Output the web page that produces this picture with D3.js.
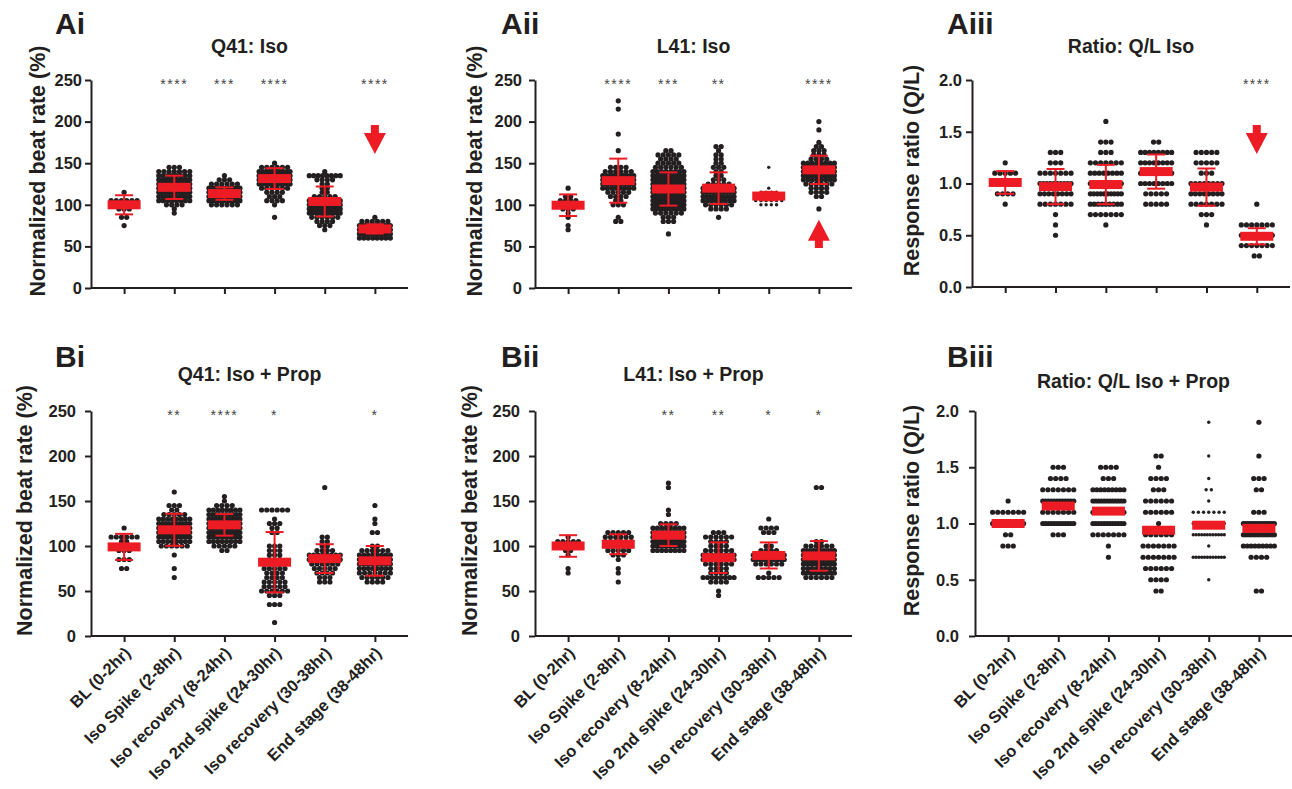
<!DOCTYPE html>
<html lang="en">
<head>
    <meta charset="UTF-8">
    <title>Beat rate scatter panels</title>
    <script src="https://cdn.jsdelivr.net/npm/d3@7"></script>
    <style>
        body {
            margin: 0;
            background: #fff;
            font-family: "Liberation Sans", Arial, Helvetica, sans-serif;
        }
        text {
            fill: #231f20;
            font-weight: bold;
        }
        .axis path, .axis line {
            stroke: #231f20;
            stroke-width: 2px;
        }
        .stars {
            font-weight: normal;
            fill: #444;
        }
    </style>
</head>
<body>
    <script>
        const categories = ["BL (0-2hr)", "Iso Spike (2-8hr)", "Iso recovery (8-24hr)",
            "Iso 2nd spike (24-30hr)", "Iso recovery (30-38hr)", "End stage (38-48hr)"];

        const beatTicks = [0, 50, 100, 150, 200, 250];
        const ratioTicks = [0, 0.5, 1.0, 1.5, 2.0];

        // dots per group as [value, count] rows
        const aiDots = [
            [[75,1],[85,2],[95,3],[100,4],[105,6],[115,1]],
            [[90,1],[95,1],[100,4],[105,8],[110,10],[115,12],[120,14],[125,12],[130,10],[135,8],[140,7],[145,3]],
            [[100,6],[105,16],[110,20],[115,16],[120,10],[125,6],[130,3],[135,1]],
            [[85,1],[100,1],[105,4],[110,3],[115,4],[120,6],[125,10],[130,14],[135,14],[140,10],[145,6],[150,1]],
            [[70,1],[75,3],[80,4],[85,6],[90,10],[95,16],[100,18],[105,14],[110,5],[115,2],[120,2],[125,2],[130,4],[135,8],[140,1]],
            [[60,8],[65,18],[70,22],[75,12],[80,6],[85,1]]
        ];
        const aiMean = [100, 121, 113.5, 131.5, 104, 71];
        const aiSd = [11.5, 14, 7.5, 12.5, 18, 5.5];
        const aiStars = ["", "****", "***", "****", "", "****"];

        const aiiDots = [
            [[70,1],[75,1],[85,1],[90,1],[95,3],[100,5],[105,4],[110,2],[120,1]],
            [[80,2],[85,1],[100,3],[105,2],[110,4],[115,5],[120,8],[125,10],[130,12],[135,10],[140,6],[145,4],[165,1],[185,1],[215,1],[225,1]],
            [[65,1],[80,3],[85,3],[90,6],[95,10],[100,12],[105,12],[110,14],[115,14],[120,14],[125,14],[130,12],[135,10],[140,8],[145,6],[150,5],[155,4],[160,5],[165,2]],
            [[85,1],[95,4],[100,6],[105,8],[110,10],[115,10],[120,8],[125,5],[130,3],[135,2],[140,2],[145,3],[150,2],[155,2],[160,2],[165,1],[170,2]],
            [[100,4],[105,6],[110,6],[115,4],[120,1],[145,1]],
            [[95,1],[110,2],[115,4],[120,4],[125,6],[130,8],[135,12],[140,14],[145,12],[150,8],[155,4],[160,3],[165,3],[170,2],[175,1],[190,1],[200,1]]
        ];
        const aiiMean = [99.5, 129, 119, 120, 110.5, 142];
        const aiiSd = [13, 26.5, 20, 19, 5, 17];
        const aiiStars = ["", "****", "***", "**", "", "****"];

        const aiiiDots = [
            [[0.8,1],[0.9,4],[1.0,6],[1.1,5],[1.2,1]],
            [[0.5,1],[0.6,1],[0.7,1],[0.8,7],[0.9,8],[1.0,10],[1.1,7],[1.2,3],[1.3,3]],
            [[0.6,1],[0.7,7],[0.8,9],[0.9,10],[1.0,10],[1.1,8],[1.2,7],[1.3,3],[1.4,3],[1.6,1]],
            [[0.8,5],[0.9,5],[1.0,8],[1.1,9],[1.2,8],[1.3,8],[1.4,2]],
            [[0.6,1],[0.7,3],[0.8,7],[0.9,8],[1.0,8],[1.1,3],[1.2,5],[1.3,5]],
            [[0.3,2],[0.4,7],[0.5,8],[0.6,7],[0.8,1]]
        ];
        const aiiiMean = [1.01, 0.97, 0.99, 1.115, 0.965, 0.49];
        const aiiiSd = [0.11, 0.17, 0.19, 0.165, 0.18, 0.078];
        const aiiiStars = ["", "", "", "", "", "****"];

        const biDots = [
            [[75,2],[85,3],[95,3],[100,4],[105,2],[110,6],[120,1]],
            [[65,1],[75,1],[90,1],[100,6],[105,8],[110,10],[115,12],[120,12],[125,10],[130,8],[135,5],[140,2],[145,3],[160,1]],
            [[95,2],[100,5],[105,8],[110,12],[115,14],[120,16],[125,14],[130,12],[135,10],[140,8],[145,4],[150,1],[155,1]],
            [[15,1],[35,3],[45,3],[50,6],[55,5],[60,5],[65,4],[70,4],[75,5],[80,4],[85,3],[90,3],[95,3],[100,3],[115,2],[120,2],[125,3],[130,1],[140,6]],
            [[60,3],[65,3],[70,4],[75,5],[80,6],[85,8],[90,8],[95,4],[100,2],[105,2],[110,2],[165,1]],
            [[60,4],[65,6],[70,7],[75,8],[80,10],[85,10],[90,8],[95,6],[100,2],[115,2],[125,1],[130,1],[145,1]]
        ];
        const biMean = [99, 118, 123.5, 82, 86, 83.5];
        const biSd = [14.5, 17.8, 12, 33.5, 16, 16.5];
        const biStars = ["", "**", "****", "*", "", "*"];

        const biiDots = [
            [[70,1],[75,1],[90,1],[95,2],[100,4],[105,5],[110,1]],
            [[60,1],[70,1],[75,1],[85,1],[90,3],[95,5],[100,6],[105,6],[110,6],[115,5]],
            [[95,8],[100,10],[105,12],[110,12],[115,10],[120,8],[125,4],[135,1],[140,1],[165,1],[170,1]],
            [[45,1],[50,1],[60,4],[65,8],[70,4],[75,4],[80,6],[85,8],[90,8],[95,6],[100,4],[105,4],[110,6],[115,3]],
            [[65,5],[70,1],[80,6],[85,10],[90,10],[95,4],[100,2],[115,3],[120,4],[130,1]],
            [[65,6],[70,10],[75,8],[80,10],[85,12],[90,12],[95,10],[100,6],[105,2],[165,2]]
        ];
        const biiMean = [100, 102, 112, 87, 89.5, 89];
        const biiSd = [12, 11, 12, 17, 14.5, 16.5];
        const biiStars = ["", "", "**", "**", "*", "*"];

        const biiiDots = [
            [[0.8,3],[0.9,2],[1.0,7],[1.1,7],[1.2,1]],
            [[0.9,3],[1.0,12],[1.1,7],[1.2,12],[1.3,7],[1.4,4],[1.5,3]],
            [[0.7,1],[0.8,1],[0.9,7],[1.0,12],[1.1,8],[1.2,12],[1.3,9],[1.4,3],[1.5,4]],
            [[0.4,2],[0.5,4],[0.6,6],[0.7,7],[0.8,7],[0.9,6],[1.0,1],[1.1,6],[1.2,6],[1.3,3],[1.4,4],[1.5,1],[1.6,2]],
            [[0.5,1],[0.7,12],[0.8,1],[0.9,12],[1.0,7],[1.1,7],[1.2,1],[1.3,2],[1.4,1],[1.6,1],[1.9,1]],
            [[0.4,2],[0.7,4],[0.8,9],[0.9,14],[1.0,14],[1.1,3],[1.3,2],[1.4,3],[1.6,1],[1.9,1]]
        ];
        const biiiMean = [1.0, 1.155, 1.11, 0.94, 0.985, 0.957];
        const biiiStars = ["", "", "", "", "", ""];

        // red arrow annotations: [panel, group index, from value, to value]
        const arrows = [
            ["Ai", 5, 196, 161],
            ["Aii", 5, 48, 82],
            ["Aiii", 5, 1.565, 1.285]
        ];

        const RED = "#ed1c24";
        const INK = "#231f20";

        const panels = [
            { id: "Ai", title: "Q41: Iso", dots: aiDots, mean: aiMean, sd: aiSd, stars: aiStars,
              left: 91, right: 408, top: 80, bottom: 288, yMax: 250, ticks: beatTicks, fmt: d3.format("d"),
              ylab: "Normalized beat rate (%)", ylabX: 37, pad: 3, titleY: 53, labelY: 34, labelX: 55, xLabels: false },
            { id: "Aii", title: "L41: Iso", dots: aiiDots, mean: aiiMean, sd: aiiSd, stars: aiiStars,
              left: 535, right: 852, top: 80, bottom: 288, yMax: 250, ticks: beatTicks, fmt: d3.format("d"),
              ylab: "Normalized beat rate (%)", ylabX: 474, pad: 7, titleY: 53, labelY: 34, labelX: 501, xLabels: false, small: 4 },
            { id: "Aiii", title: "Ratio: Q/L Iso", dots: aiiiDots, mean: aiiiMean, sd: aiiiSd, stars: aiiiStars,
              left: 972, right: 1290, top: 80, bottom: 287, yMax: 2, ticks: ratioTicks, fmt: d3.format(".1f"),
              ylab: "Response ratio (Q/L)", ylabX: 911, pad: 4, titleY: 53, labelY: 34, labelX: 947, xLabels: false },
            { id: "Bi", title: "Q41: Iso + Prop", dots: biDots, mean: biMean, sd: biSd, stars: biStars,
              left: 91, right: 408, top: 411, bottom: 636, yMax: 250, ticks: beatTicks, fmt: d3.format("d"),
              ylab: "Normalized beat rate (%)", ylabX: 24, pad: 9, titleY: 381, labelY: 367, labelX: 55, xLabels: true },
            { id: "Bii", title: "L41: Iso + Prop", dots: biiDots, mean: biiMean, sd: biiSd, stars: biiStars,
              left: 535, right: 852, top: 411, bottom: 636, yMax: 250, ticks: beatTicks, fmt: d3.format("d"),
              ylab: "Normalized beat rate (%)", ylabX: 469, pad: 9, titleY: 381, labelY: 367, labelX: 501, xLabels: true },
            { id: "Biii", title: "Ratio: Q/L Iso + Prop", dots: biiiDots, mean: biiiMean, sd: null, stars: biiiStars,
              left: 975, right: 1292, top: 411, bottom: 636, yMax: 2, ticks: ratioTicks, fmt: d3.format(".1f"),
              ylab: "Response ratio (Q/L)", ylabX: 911, pad: 10, titleY: 388, labelY: 367, labelX: 947, xLabels: true, small: 4 }
        ];

        const svg = d3.select("body").append("svg")
            .attr("width", 1292)
            .attr("height", 789);

        panels.forEach(drawPanel);

        function drawPanel(p) {
            const g = svg.append("g");
            const x = d3.scalePoint().domain(categories).range([p.left, p.right]).padding(0.66);
            const y = d3.scaleLinear().domain([0, p.yMax]).range([p.bottom, p.top]);

            // panel letter and title
            g.append("text").attr("x", p.labelX).attr("y", p.labelY)
                .style("font-size", "30px").text(p.id);
            g.append("text").attr("x", (p.left + p.right) / 2).attr("y", p.titleY)
                .attr("text-anchor", "middle").style("font-size", "19.5px").text(p.title);

            // y axis title
            g.append("text")
                .attr("transform", `translate(${p.ylabX},${(p.top + p.bottom) / 2 - 13}) rotate(-90)`)
                .attr("text-anchor", "middle").attr("dy", "0.35em")
                .style("font-size", "21.5px").text(p.ylab);

            // dots
            const pts = [];
            p.dots.forEach((rows, gi) => {
                const cx = x(categories[gi]);
                const r = p.small === gi ? 1.7 : 2.6;
                rows.forEach(([v, n]) => {
                    const step = n > 1 ? Math.min(5.2, 31 / (n - 1)) : 0;
                    for (let k = 0; k < n; k++) {
                        pts.push({ x: cx + (k - (n - 1) / 2) * step, y: y(v), r: r });
                    }
                });
            });
            g.append("g").selectAll("circle").data(pts).join("circle")
                .attr("cx", d => d.x).attr("cy", d => d.y).attr("r", d => d.r)
                .attr("fill", INK);

            // error bars (mean +/- SD)
            if (p.sd) {
                const eb = g.append("g").attr("stroke", RED).attr("stroke-width", 2);
                p.mean.forEach((m, gi) => {
                    const cx = x(categories[gi]);
                    const lo = y(m - p.sd[gi]), hi = y(m + p.sd[gi]);
                    eb.append("line").attr("x1", cx).attr("x2", cx).attr("y1", lo).attr("y2", hi);
                    eb.append("line").attr("x1", cx - 9).attr("x2", cx + 9).attr("y1", lo).attr("y2", lo);
                    eb.append("line").attr("x1", cx - 9).attr("x2", cx + 9).attr("y1", hi).attr("y2", hi);
                });
            }

            // mean bars
            g.append("g").selectAll("rect").data(p.mean).join("rect")
                .attr("x", (d, i) => x(categories[i]) - 16.5)
                .attr("y", d => y(d) - 4.5)
                .attr("width", 33).attr("height", 9)
                .attr("fill", RED);

            // significance stars
            g.append("g").selectAll("text").data(p.stars).join("text")
                .attr("class", "stars")
                .attr("x", (d, i) => x(categories[i]))
                .attr("y", y(p.yMax) + 8.5)
                .attr("text-anchor", "middle")
                .style("font-size", "14px").style("letter-spacing", "1.5px")
                .text(d => d);

            // axes
            const ya = g.append("g").attr("class", "axis")
                .attr("transform", `translate(${p.left},0)`)
                .call(d3.axisLeft(y).tickValues(p.ticks).tickFormat(p.fmt)
                    .tickSize(6).tickSizeOuter(0).tickPadding(p.pad));
            ya.selectAll("text").style("font-size", "16.5px").style("font-family", "inherit").attr("fill", INK);

            const xa = g.append("g").attr("class", "axis")
                .attr("transform", `translate(0,${p.bottom})`)
                .call(d3.axisBottom(x).tickSize(6).tickSizeOuter(0));
            xa.select(".domain").attr("d", `M${p.left},0H${p.right}`);
            xa.selectAll("text").remove();
            if (p.xLabels) {
                xa.selectAll(".tick").append("text")
                    .attr("transform", "translate(7,18) rotate(-45)")
                    .attr("text-anchor", "end")
                    .attr("fill", INK)
                    .style("font-size", "16.5px")
                    .text(d => d);
            }

            // red arrows
            arrows.filter(a => a[0] === p.id).forEach(([, gi, from, to]) => {
                const cx = x(categories[gi]);
                const y0 = y(from), y1 = y(to);
                const dir = Math.sign(y1 - y0);
                const yh = y1 - dir * 21;
                g.append("path")
                    .attr("d", `M${cx - 4},${y0}H${cx + 4}V${yh}H${cx + 11}L${cx},${y1}L${cx - 11},${yh}H${cx - 4}Z`)
                    .attr("fill", RED);
            });
        }
    </script>
</body>
</html>
